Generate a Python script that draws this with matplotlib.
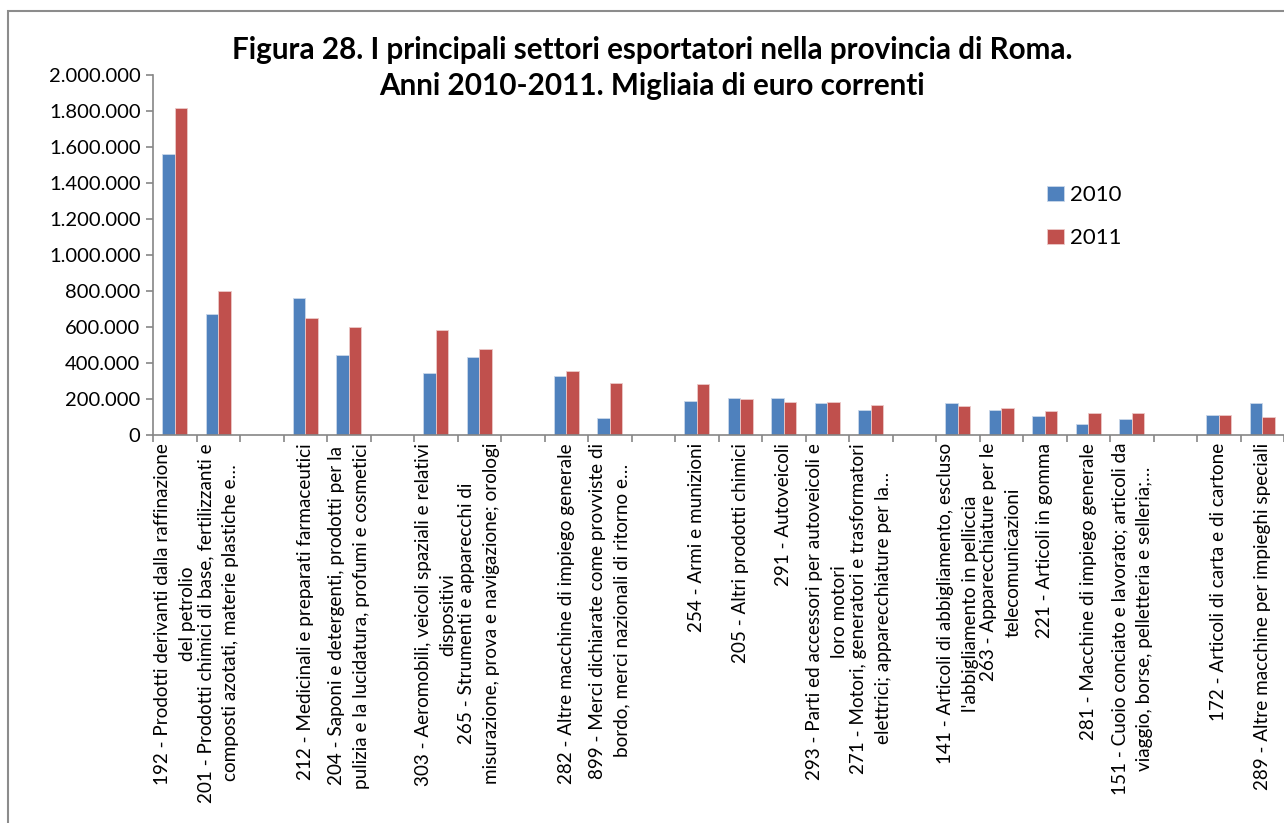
import numpy as np
import matplotlib
matplotlib.use("Agg")
import matplotlib.pyplot as plt
from matplotlib.patches import Rectangle
from matplotlib.ticker import FuncFormatter, MultipleLocator

# ---------------- Dati ----------------
settori = [
    "192 - Prodotti derivanti dalla raffinazione\ndel petrolio",
    "201 - Prodotti chimici di base, fertilizzanti e\ncomposti azotati, materie plastiche e…",
    "",
    "212 - Medicinali e preparati farmaceutici",
    "204 - Saponi e detergenti, prodotti per la\npulizia e la lucidatura, profumi e cosmetici",
    "",
    "303 - Aeromobili, veicoli spaziali e relativi\ndispositivi",
    "265 - Strumenti e apparecchi di\nmisurazione, prova e navigazione; orologi",
    "",
    "282 - Altre macchine di impiego generale",
    "899 - Merci dichiarate come provviste di\nbordo, merci nazionali di ritorno e…",
    "",
    "254 - Armi e munizioni",
    "205 - Altri prodotti chimici",
    "291 - Autoveicoli",
    "293 - Parti ed accessori per autoveicoli e\nloro motori",
    "271 - Motori, generatori e trasformatori\nelettrici; apparecchiature per la…",
    "",
    "141 - Articoli di abbigliamento, escluso\nl'abbigliamento in pelliccia",
    "263 - Apparecchiature per le\ntelecomunicazioni",
    "221 - Articoli in gomma",
    "281 - Macchine di impiego generale",
    "151 - Cuoio conciato e lavorato; articoli da\nviaggio, borse, pelletteria e selleria;…",
    "",
    "172 - Articoli di carta e di cartone",
    "289 - Altre macchine per impieghi speciali",
]

# migliaia di euro (None = categoria vuota)
export_2010 = [1560000, 670000, None, 759000, 443000, None, 343000, 432000, None,
               328000, 96000, None, 191000, 204000, 206000, 176000, 139000, None,
               178000, 141000, 106000, 63000, 89000, None, 109000, 180000]
export_2011 = [1818000, 800000, None, 648000, 600000, None, 585000, 478000, None,
               354000, 289000, None, 283000, 200000, 185000, 182000, 165000, None,
               159000, 150000, 133000, 124000, 120000, None, 109000, 100000]

anni = ["2010", "2011"]
colori = ["#4F81BD", "#C0504D"]

TITOLO = ("Figura 28. I principali settori esportatori nella provincia di Roma.\n"
          "Anni 2010-2011. Migliaia di euro correnti")

FONT = ["Lato", "DejaVu Sans"]
plt.rcParams["font.family"] = FONT

# ---------------- Grafico ----------------
W, H = 1284, 823
fig = plt.figure(figsize=(W / 100, H / 100), dpi=100)

# cornice esterna dell'area grafico
fig.patches.append(Rectangle((8 / W, -0.05), 1.1, 1 - 11 / H + 0.05,
                             transform=fig.transFigure, fill=False,
                             edgecolor="#8c8c8c", linewidth=1.5, zorder=0))

ax = fig.add_axes([153 / W, 1 - 435 / H, 1 - 153 / W, 360 / H])

n = len(settori)
x = np.arange(n) + 0.5
w = 0.283
v10 = np.array([np.nan if v is None else v for v in export_2010], dtype=float)
v11 = np.array([np.nan if v is None else v for v in export_2011], dtype=float)

ax.bar(x - w / 2, v10, width=w, color=colori[0], edgecolor="#c9d7ea",
       linewidth=0.6, label=anni[0])
ax.bar(x + w / 2, v11, width=w, color=colori[1], edgecolor="#ecc9c8",
       linewidth=0.6, label=anni[1])

ax.set_xlim(0, n)
ax.set_ylim(0, 2000000)
ax.yaxis.set_major_locator(MultipleLocator(200000))
ax.yaxis.set_major_formatter(FuncFormatter(lambda v, p: f"{int(v):,}".replace(",", ".")))
ax.set_xticks(np.arange(n + 1))
ax.set_xticklabels([])

for s in ["top", "right"]:
    ax.spines[s].set_visible(False)
for s in ["left", "bottom"]:
    ax.spines[s].set_color("#868686")
    ax.spines[s].set_linewidth(1.2)
ax.tick_params(axis="both", direction="out", length=5, width=1.2, color="#868686")
ax.tick_params(axis="y", labelsize=14.5, pad=4)

# etichette di categoria ruotate
for xi, lab in zip(x, settori):
    if lab:
        ax.text(xi, -0.022, lab, transform=ax.get_xaxis_transform(),
                rotation=90, ha="center", va="top", multialignment="center",
                fontsize=13.6, linespacing=1.55)

fig.text(0.508, 1 - 68 / H, TITOLO, ha="center", va="center",
         fontsize=21.3, fontweight="bold", linespacing=1.35)

ax.legend(loc="upper left", bbox_to_anchor=(1036 / W, 1 - 174 / H),
          bbox_transform=fig.transFigure, frameon=False, fontsize=16,
          handlelength=0.75, handleheight=0.7, handletextpad=0.3,
          labelspacing=1.05, borderpad=0)

fig.savefig("out.png", dpi=100)
